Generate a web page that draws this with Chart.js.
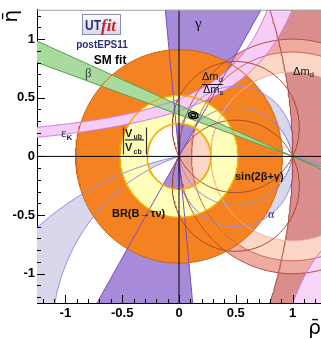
<!DOCTYPE html>
<html><head><meta charset="utf-8">
<script src="https://cdn.jsdelivr.net/npm/chart.js@4.4.1/dist/chart.umd.min.js"></script>
<style>html,body{margin:0;padding:0;background:#fff;overflow:hidden;}canvas{display:block;}</style>
</head><body>
<canvas id="c" width="321" height="339"></canvas>
<script>
// ---------- values ----------
const rhoRange = [-1.25, 1.25];
const etaRange = [-1.25, 1.25];
const rhoTickValues = [-1, -0.5, 0, 0.5, 1];
const etaTickValues = [-1, -0.5, 0, 0.5, 1];
const gammaBandDeg = [60.0, 95.5];          // gamma wedge (and gamma+180) from (0,0)
const betaBandDeg = [19.6, 23.6];           // beta wedge from (1,0)
const alphaNearCentres = [0.09, -0.09];     // alpha ~ 90 deg: circle centres (0.5, c)
const alphaFarCentres = [-2.62, -1.54];     // mirror alpha solution: circle centres (0.5, c)
const vubVcbRadii = [0.28, 0.52];           // |Vub/Vcb| ring around (0,0)
const brTauNuRadii = [0.50, 0.91];          // BR(B->tau nu) ring around (0,0)
const dmdRingRadii = [0.89, 1.00];          // Delta m_d ring around (1,0)
const dmsRingRadii = [0.72, 0.89];          // Delta m_d / Delta m_s ring around (1,0)
const dmdArcCircle = [-3.0, 4.0];           // outer Delta m_d arc: centre rho, radius
const epsKUpper = [1.279, 0.627, 0.0];      // eta = k/(a-rho)+b : [a,k,b]
const epsKLower = [1.589, 0.815, -0.125];
const epsKBranch = [0.55, 0.565, 0.0];
const sin2bgCentres = [0.25, -0.25];        // sin(2beta+gamma) circles through (0,0),(1,0)
const fitCentre = [0.125, 0.352];
const fitAxes68 = [0.022, 0.014];
const fitAxes95 = [0.042, 0.028];

// ---------- geometry helpers ----------
const DEG = Math.PI / 180;
function arc(cx, cy, r, a0, a1, n) {
  n = n || 240; const p = [];
  for (let i = 0; i <= n; i++) { const a = (a0 + (a1 - a0) * i / n) * DEG; p.push({x: cx + r * Math.cos(a), y: cy + r * Math.sin(a)}); }
  return p;
}
function ang(cx, cy, x, y) { return Math.atan2(y - cy, x - cx) / DEG; }
function annulus(cx, cy, r1, r2) { return arc(cx, cy, r2, 0, 360).concat(arc(cx, cy, r1, 360, 0)); }
function hyper(p, r0, r1, n) { n = n || 240; const [a, k, b] = p; const o = [];
  for (let i = 0; i <= n; i++) { const r = r0 + (r1 - r0) * i / n; o.push({x: r, y: k / (a - r) + b}); } return o; }
function hyperAt(p, eta) { const [a, k, b] = p; return a - k / (eta - b); }
function ellipse(cx, cy, rx, ry, tilt) { const o = []; const t = tilt * DEG;
  for (let i = 0; i <= 72; i++) { const u = i / 72 * 2 * Math.PI; const dx = rx * Math.cos(u), dy = ry * Math.sin(u);
    o.push({x: cx + dx * Math.cos(t) - dy * Math.sin(t), y: cy + dx * Math.sin(t) + dy * Math.cos(t)}); } return o; }

// alpha near-90 crescents
const U = [0.5, alphaNearCentres[0], Math.hypot(0.5, alphaNearCentres[0])];
const L = [0.5, alphaNearCentres[1], Math.hypot(0.5, alphaNearCentres[1])];
const uA = ang(U[0], U[1], 0, 0) + 360, uB = ang(U[0], U[1], 1, 0);
const lA = ang(L[0], L[1], 0, 0), lB = ang(L[0], L[1], 1, 0);
const alphaUpper = arc(U[0], U[1], U[2], uB, uA).concat(arc(L[0], L[1], L[2], lA, lB));
const alphaLower = arc(L[0], L[1], L[2], lA, lB + 360).concat(arc(U[0], U[1], U[2], uB + 360, uA));
// alpha far crescent
const Bg = [0.5, alphaFarCentres[0], Math.hypot(0.5, alphaFarCentres[0])];
const Sm = [0.5, alphaFarCentres[1], Math.hypot(0.5, alphaFarCentres[1])];
const alphaFar = arc(Bg[0], Bg[1], Bg[2], ang(Bg[0], Bg[1], 0, 0), ang(Bg[0], Bg[1], 1, 0) + 360)
  .concat(arc(Sm[0], Sm[1], Sm[2], ang(Sm[0], Sm[1], 1, 0) + 360, ang(Sm[0], Sm[1], 0, 0)));
// Delta m_d outer arc region
const dmdArc = arc(dmdArcCircle[0], 0, dmdArcCircle[1], -22, 22, 120);
const dmdRegion = dmdArc.concat([{x: 1.7, y: dmdArc[dmdArc.length - 1].y}, {x: 1.7, y: dmdArc[0].y}]);
// gamma
const R = 4;
const gammaPoly = [{x: 0, y: 0}].concat(arc(0, 0, R, gammaBandDeg[0], gammaBandDeg[1], 20), [{x: 0, y: 0}],
  arc(0, 0, R, gammaBandDeg[0] + 180, gammaBandDeg[1] + 180, 20), [{x: 0, y: 0}]);
const gammaLine = a => [{x: R * Math.cos((a + 180) * DEG), y: R * Math.sin((a + 180) * DEG)}, {x: R * Math.cos(a * DEG), y: R * Math.sin(a * DEG)}];
// beta
const b0 = 180 - betaBandDeg[1], b1 = 180 - betaBandDeg[0];
const betaPoly = [{x: 1, y: 0}].concat(arc(1, 0, R, b0, b1, 20), [{x: 1, y: 0}], arc(1, 0, R, b0 + 180, b1 + 180, 20), [{x: 1, y: 0}]);
const betaLine = a => [{x: 1 + R * Math.cos(a * DEG), y: R * Math.sin(a * DEG)}, {x: 1 - R * Math.cos(a * DEG), y: -R * Math.sin(a * DEG)}];
// epsilon K
const epsUp = hyper(epsKUpper, -1.4, hyperAt(epsKUpper, 1.4));
const epsLo = hyper(epsKLower, -1.4, hyperAt(epsKLower, 1.4));
const epsPoly = epsUp.concat(epsLo.slice().reverse());
const epsBr = hyper(epsKBranch, hyperAt(epsKBranch, -1.4), 1.5, 120);
const epsBrPoly = epsBr.concat([{x: 1.5, y: -1.4}]);

// ---------- datasets (bottom to top) ----------
const datasets = [];
function addFill(pts, color) { datasets.push({data: pts, backgroundColor: color, borderColor: color, borderWidth: 0, fill: 'shape', pointRadius: 0, tension: 0}); }
function addLine(pts, color, w) { datasets.push({data: pts, borderColor: color, borderWidth: w || 1, fill: false, pointRadius: 0, tension: 0}); }

addFill(alphaFar, '#D8D8EA');
addFill(alphaUpper, '#D8D8EA');
addFill(alphaLower, '#D8D8EA');
addFill(dmdRegion, '#DA8D8D');
addFill(annulus(1, 0, dmdRingRadii[0], dmdRingRadii[1]), '#EDABA2');
addFill(annulus(1, 0, dmsRingRadii[0], dmsRingRadii[1]), '#FCD6C6');
addFill(gammaPoly, '#A78BD8');
addFill(annulus(0, 0, brTauNuRadii[0], brTauNuRadii[1]), '#F58220');
addFill(annulus(0, 0, vubVcbRadii[0], vubVcbRadii[1]), '#FFFFBA');
addFill(epsPoly, '#F6CDF6');
addFill(epsBrPoly, '#F6D6F8');
addFill(betaPoly, '#A9DA9F');

addLine(alphaFar, '#8E8EE6');
addLine(alphaUpper, '#8E8EE6');
addLine(alphaLower, '#8E8EE6');
addLine(dmdArc, '#A8463C');
addLine(arc(1, 0, dmdRingRadii[1], 0, 360), '#B24E40');
addLine(arc(1, 0, dmdRingRadii[0], 0, 360), '#C8685A');
addLine(arc(1, 0, dmsRingRadii[0], 0, 360), '#F0AE9E');
sin2bgCentres.forEach(c => addLine(arc(0.5, c, Math.hypot(0.5, c), 0, 360), '#A5482F'));
addLine(gammaLine(gammaBandDeg[0]), '#7B4DC2');
addLine(gammaLine(gammaBandDeg[1]), '#7B4DC2');
addLine(arc(0, 0, brTauNuRadii[1], 0, 360), '#C9651C');
addLine(arc(0, 0, vubVcbRadii[1], 0, 360), '#F2AC00', 1.5);
addLine(arc(0, 0, vubVcbRadii[0], 0, 360), '#F2AC00', 1.5);
addLine(epsUp, '#D274D8');
addLine(epsLo, '#D274D8');
addLine(epsBr, '#D274D8');
addLine(betaLine(b0), '#5C9C50');
addLine(betaLine(b1), '#5C9C50');
addLine([{x: 0, y: etaRange[0]}, {x: 0, y: etaRange[1]}], '#000');
addLine([{x: rhoRange[0], y: 0}, {x: rhoRange[1], y: 0}], '#000');
addLine(ellipse(fitCentre[0], fitCentre[1], fitAxes95[0], fitAxes95[1], -12), '#000', 1.3);
addLine(ellipse(fitCentre[0], fitCentre[1], fitAxes68[0], fitAxes68[1], -12), '#000', 1.3);
datasets.forEach((d, i) => { d.order = datasets.length - i; });

// ---------- decorations: inward ticks, frame, labels ----------
const decor = {
  id: 'decor',
  afterDatasetsDraw(chart) {
    const {ctx, chartArea: a, scales: {x: xs, y: ys}} = chart;
    const P = (r, e) => [xs.getPixelForValue(r), ys.getPixelForValue(e)];
    ctx.save();
    ctx.strokeStyle = '#000'; ctx.lineWidth = 1; ctx.beginPath();
    for (let i = -12; i <= 12; i++) {
      const v = i / 10, len = (i % 5 === 0) ? 8 : 4;
      const px = Math.round(xs.getPixelForValue(v)) + 0.5;
      ctx.moveTo(px, a.bottom); ctx.lineTo(px, a.bottom - len);
      const py = Math.round(ys.getPixelForValue(v)) + 0.5;
      ctx.moveTo(a.left, py); ctx.lineTo(a.left + len, py);
    }
    ctx.stroke();
    ctx.strokeStyle = '#a0a0a0'; ctx.beginPath(); ctx.moveTo(a.left, a.top + 0.5); ctx.lineTo(a.right, a.top + 0.5); ctx.stroke();

    function t(s, x, y, font, col, align) { ctx.font = font; ctx.fillStyle = col; ctx.textAlign = align || 'left'; ctx.textBaseline = 'alphabetic'; ctx.fillText(s, x, y); return ctx.measureText(s).width; }
    const SANS = '"Liberation Sans", Arial, sans-serif', SERIF = '"Liberation Serif", "DejaVu Serif", serif';
    // logo
    let [lx, ly] = P(-0.854, 1.216);
    const g = ctx.createLinearGradient(0, ly, 0, ly + 20); g.addColorStop(0, '#ffffff'); g.addColorStop(1, '#d8d8e8');
    ctx.fillStyle = g; ctx.fillRect(lx, ly, 38, 20);
    ctx.strokeStyle = '#8c8cb0'; ctx.lineWidth = 1; ctx.strokeRect(Math.round(lx) + 0.5, Math.round(ly) + 0.5, 38, 20);
    ctx.save(); ctx.translate(lx + 3, ly + 16); ctx.scale(0.8, 1); t('UT', 0, 0, 'bold 15px ' + SANS, '#2c2c7c'); ctx.restore();
    t('fit', lx + 19, ly + 17, 'italic bold 17px ' + SERIF, '#cc1f2a');
    let [x, y] = P(-0.678, 0.927); t('postEPS11', x, y, 'bold 10px ' + SANS, '#2c2c7c', 'center');
    [x, y] = P(-0.607, 0.791); t('SM fit', x, y, 'bold 12px ' + SANS, '#000', 'center');
    [x, y] = P(-0.827, 0.680); t('β', x, y, '13px ' + SERIF, '#34483a');
    [x, y] = P(-1.039, 0.162); let w = t('ε', x, y, '13px ' + SERIF, '#24244e'); t('K', x + w, y + 3, 'bold 8px ' + SANS, '#24244e');
    // |Vub/Vcb|
    [x, y] = P(-0.493, 0.247);
    ctx.strokeStyle = '#333'; ctx.lineWidth = 1.2; ctx.beginPath();
    ctx.moveTo(x + 0.5, y); ctx.lineTo(x + 0.5, y + 27); ctx.moveTo(x + 23.5, y); ctx.lineTo(x + 23.5, y + 27);
    ctx.moveTo(x + 2, y + 12.5); ctx.lineTo(x + 21, y + 12.5); ctx.stroke();
    t('V', x + 2, y + 9.5, 'bold 11px ' + SANS, '#222'); t('ub', x + 10.5, y + 11.5, 'bold 7px ' + SANS, '#222');
    t('V', x + 2, y + 24, 'bold 11px ' + SANS, '#222'); t('cb', x + 10.5, y + 26.5, 'bold 7px ' + SANS, '#222');
    [x, y] = P(0.141, 1.097); t('γ', x, y, '15px ' + SERIF, '#111');
    // Delta m_d / Delta m_s
    [x, y] = P(0.202, 0.617);
    w = t('Δm', x, y - 4, '11px ' + SANS, '#111'); t('d', x + w, y - 2, '8px ' + SANS, '#111');
    ctx.strokeStyle = '#111'; ctx.lineWidth = 1; ctx.beginPath(); ctx.moveTo(x, y + 0.5); ctx.lineTo(x + 21, y + 0.5); ctx.stroke();
    w = t('Δm', x + 1, y + 9, '11px ' + SANS, '#111'); t('s', x + 1 + w, y + 11, '8px ' + SANS, '#111');
    [x, y] = P(1.004, 0.697); w = t('Δm', x, y, '11px ' + SANS, '#111'); t('d', x + w, y + 2, '8px ' + SANS, '#111');
    [x, y] = P(0.493, -0.204); t('sin(2β+γ)', x, y, 'bold 11px ' + SANS, '#111');
    [x, y] = P(0.783, -0.527); t('α', x, y, '12px ' + SERIF, '#2a2a90');
    [x, y] = P(-0.590, -0.519); t('BR(B→τν)', x, y, 'bold 11px ' + SANS, '#111');
    ctx.restore();
  }
};

const tickFont = {family: '"Liberation Sans", Arial, sans-serif', size: 13, weight: 'bold'};
const fmt = v => String(v);
new Chart(document.getElementById('c'), {
  type: 'line',
  data: {datasets},
  options: {
    responsive: false, animation: false, events: [],
    layout: {padding: {top: 9, right: 0, bottom: 0, left: 0}},
    plugins: {legend: {display: false}, tooltip: {enabled: false}},
    scales: {
      x: {type: 'linear', min: rhoRange[0], max: rhoRange[1],
        afterBuildTicks: s => { s.ticks = rhoTickValues.map(v => ({value: v})); },
        afterFit: s => { s.height = 36; },
        ticks: {font: tickFont, color: '#000', padding: 3, maxRotation: 0, autoSkip: false, callback: fmt},
        grid: {display: false, drawTicks: false},
        border: {display: true, color: '#000', width: 1},
        title: {display: true, text: 'ρ\u0304', align: 'end', color: '#000', font: {family: '"DejaVu Sans", sans-serif', size: 20}, padding: {top: 0, bottom: -2}}},
      y: {type: 'linear', min: etaRange[0], max: etaRange[1],
        afterBuildTicks: s => { s.ticks = etaTickValues.map(v => ({value: v})); },
        afterFit: s => { s.width = 37; },
        ticks: {font: tickFont, color: '#000', padding: 2, autoSkip: false, callback: fmt},
        grid: {display: false, drawTicks: false},
        border: {display: true, color: '#000', width: 1},
        title: {display: true, text: 'η\u0304', align: 'end', color: '#000', font: {family: '"DejaVu Sans", sans-serif', size: 20}, padding: {top: 0, bottom: 0}}}
    }
  },
  plugins: [decor]
});
</script>
</body></html>
